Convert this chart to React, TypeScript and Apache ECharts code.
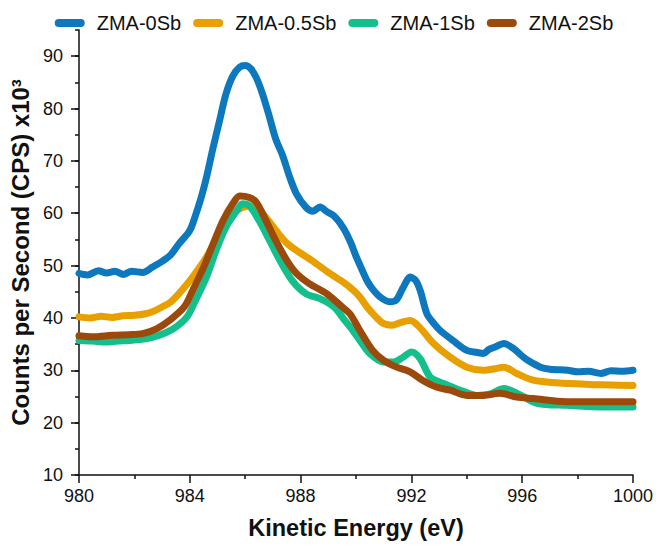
import React, { useEffect, useRef } from "react";
import * as echarts from "echarts";

const seriesNames = ["ZMA-0Sb", "ZMA-0.5Sb", "ZMA-1Sb", "ZMA-2Sb"];
const seriesColors = ["#0E78BE", "#E89F00", "#15BF8C", "#9C4A0C"];

const zma0Sb: [number, number][] = [
  [980.0, 48.5], [980.3, 48.2], [980.7, 49.0], [981.0, 48.6], [981.3, 48.9], [981.6, 48.3],
  [981.9, 48.9], [982.3, 48.7], [982.65, 49.7], [983.0, 50.8], [983.3, 52.0], [983.6, 54.1],
  [984.0, 56.7], [984.2, 59.5], [984.4, 62.8], [984.6, 66.8], [984.84, 72.5], [985.07, 77.6],
  [985.3, 82.7], [985.55, 86.2], [985.8, 87.9], [986.0, 88.2], [986.2, 87.6], [986.4, 85.9],
  [986.63, 82.7], [986.88, 78.3], [987.1, 74.2], [987.36, 70.9], [987.6, 67.0], [987.85, 63.7],
  [988.2, 61.1], [988.45, 60.4], [988.7, 61.2], [988.95, 60.3], [989.2, 59.5], [989.53, 57.3],
  [989.8, 54.5], [990.0, 51.8], [990.2, 49.4], [990.4, 47.1], [990.6, 45.5], [990.87, 44.0],
  [991.2, 43.1], [991.45, 43.4], [991.7, 45.8], [991.96, 47.8], [992.15, 47.2], [992.32, 45.2],
  [992.56, 40.8], [992.8, 39.0], [993.04, 37.6], [993.5, 35.7], [994.0, 33.8], [994.37, 33.4],
  [994.6, 33.2], [994.8, 34.0], [995.0, 34.4], [995.34, 35.1], [995.7, 34.1], [996.0, 32.7],
  [996.2, 31.9], [996.66, 30.6], [997.0, 30.2], [997.64, 30.0], [998.0, 29.7], [998.4, 29.8],
  [998.84, 29.4], [999.2, 29.9], [999.6, 29.8], [1000.0, 30.0],
];

const zma05Sb: [number, number][] = [
  [980.0, 40.2], [980.4, 40.0], [980.8, 40.3], [981.2, 40.1], [981.6, 40.4], [982.0, 40.5],
  [982.4, 40.8], [982.7, 41.3], [983.0, 42.1], [983.3, 43.0], [983.6, 44.6], [984.1, 47.8],
  [984.6, 51.6], [985.07, 56.1], [985.55, 59.9], [985.9, 61.1], [986.27, 61.4], [986.5, 60.6],
  [986.75, 59.2], [987.2, 56.1], [987.5, 54.3], [987.85, 52.9], [988.4, 51.0], [989.0, 48.7],
  [989.6, 46.6], [989.9, 45.3], [990.14, 44.0], [990.4, 42.1], [990.7, 40.3], [991.0, 38.9],
  [991.3, 38.6], [991.6, 39.1], [991.96, 39.5], [992.3, 38.2], [992.8, 35.1], [993.4, 32.5],
  [994.0, 30.6], [994.6, 30.0], [995.0, 30.3], [995.34, 30.6], [995.8, 29.4], [996.4, 28.1],
  [997.0, 27.7], [997.64, 27.5], [998.4, 27.3], [999.2, 27.2], [1000.0, 27.1],
];

const zma1Sb: [number, number][] = [
  [980.0, 35.7], [980.5, 35.6], [980.97, 35.4], [981.4, 35.6], [981.8, 35.7], [982.4, 36.0],
  [982.9, 36.7], [983.4, 37.9], [983.9, 40.2], [984.2, 43.3], [984.6, 47.8], [984.95, 52.9],
  [985.3, 57.3], [985.7, 60.5], [985.9, 61.8], [986.15, 61.4], [986.5, 58.6], [986.88, 54.8],
  [987.25, 51.0], [987.7, 47.1], [988.2, 44.6], [988.7, 43.7], [989.2, 42.1], [989.6, 39.5],
  [989.9, 37.5], [990.14, 35.7], [990.5, 33.2], [991.0, 31.6], [991.35, 31.6], [991.7, 32.5],
  [992.0, 33.5], [992.32, 32.2], [992.68, 28.7], [993.16, 27.5], [993.77, 26.2], [994.37, 25.2],
  [994.85, 25.5], [995.34, 26.5], [995.82, 25.6], [996.54, 23.7], [997.63, 23.3], [998.84, 23.0],
  [1000.0, 23.0],
];

const zma2Sb: [number, number][] = [
  [980.0, 36.6], [980.5, 36.4], [981.2, 36.7], [981.8, 36.8], [982.3, 37.0], [982.8, 37.9],
  [983.26, 39.5], [983.8, 42.1], [984.1, 45.2], [984.5, 49.7], [984.84, 54.1], [985.2, 58.6],
  [985.55, 61.8], [985.8, 63.3], [986.15, 63.0], [986.4, 62.1], [986.75, 58.6], [987.1, 54.8],
  [987.5, 51.0], [987.85, 48.5], [988.3, 46.6], [988.95, 44.6], [989.5, 42.1], [989.78, 40.8],
  [990.14, 37.6], [990.6, 33.8], [991.0, 31.9], [991.47, 30.6], [991.95, 29.7], [992.4, 28.1],
  [992.9, 26.8], [993.4, 26.2], [994.0, 25.2], [994.6, 25.2], [995.2, 25.6], [995.8, 24.9],
  [996.4, 24.6], [997.6, 24.0], [998.8, 24.0], [1000.0, 24.0],
];

const yMajorTicks = [10, 20, 30, 40, 50, 60, 70, 80, 90];

const FONT = "'Liberation Sans', Arial, Helvetica, sans-serif";

export default function App() {
  const ref = useRef<HTMLDivElement>(null);

  useEffect(() => {
    if (!ref.current) return;
    const chart = echarts.init(ref.current, null, { renderer: "svg" });
    const allData = [zma0Sb, zma05Sb, zma1Sb, zma2Sb];

    chart.setOption({
      animation: false,
      backgroundColor: "#ffffff",
      textStyle: { fontFamily: FONT },
      legend: {
        top: 8,
        left: "center",
        itemWidth: 30,
        itemHeight: 8,
        itemGap: 12,
        icon: "path://M4,0 H26 A4,4 0 0 1 26,8 H4 A4,4 0 0 1 4,0 Z",
        textStyle: { fontSize: 20, color: "#111", fontFamily: FONT, padding: [0, 0, 0, 7] },
        data: seriesNames,
      },
      grid: { left: 79, right: 35, top: 30, bottom: 74, containLabel: false },
      xAxis: {
        type: "value",
        min: 980,
        max: 1000,
        interval: 4,
        name: "Kinetic Energy (eV)",
        nameLocation: "middle",
        nameGap: 41,
        nameTextStyle: { fontSize: 23.5, fontWeight: "bold", color: "#111", fontFamily: FONT },
        axisLine: { show: true, lineStyle: { color: "#111", width: 1.5 } },
        axisTick: { show: true, length: 8, lineStyle: { color: "#111", width: 1.5 } },
        minorTick: { show: true, splitNumber: 2, length: 4, lineStyle: { color: "#111", width: 1.5 } },
        axisLabel: {
          fontSize: 18,
          color: "#111",
          margin: 12,
          fontFamily: FONT,
          formatter: (v: number) => String(v),
        },
        splitLine: { show: false },
      },
      yAxis: [
        {
          type: "value",
          min: 10,
          max: 95,
          interval: 5,
          name: "Counts per Second (CPS) x10³",
          nameLocation: "middle",
          nameGap: 42,
          nameTextStyle: { fontSize: 24, fontWeight: "bold", color: "#111", fontFamily: FONT },
          axisLine: { show: true, lineStyle: { color: "#111", width: 1.5 } },
          axisTick: { show: true, length: 4, lineStyle: { color: "#111", width: 1.5 } },
          axisLabel: {
            fontSize: 18,
            color: "#111",
            margin: 16,
            fontFamily: FONT,
            customValues: yMajorTicks,
            formatter: (v: number) => String(v),
          },
          splitLine: { show: false },
        },
        {
          type: "value",
          min: 10,
          max: 95,
          interval: 10,
          position: "left",
          axisLine: { show: false },
          axisTick: { show: true, length: 8, customValues: yMajorTicks, lineStyle: { color: "#111", width: 1.5 } },
          axisLabel: { show: false },
          splitLine: { show: false },
        },
      ],
      series: seriesNames.map((name, i) => ({
        name,
        type: "line",
        data: allData[i],
        xAxisIndex: 0,
        yAxisIndex: 0,
        showSymbol: false,
        symbol: "none",
        smooth: 0.3,
        color: seriesColors[i],
        lineStyle: { width: 7, color: seriesColors[i], cap: "round", join: "round" },
        z: 2 + i,
      })),
    });

    return () => chart.dispose();
  }, []);

  return (
    <div
      ref={ref}
      style={{ position: "fixed", left: 0, top: 0, width: 668, height: 549, background: "#fff" }}
    />
  );
}
